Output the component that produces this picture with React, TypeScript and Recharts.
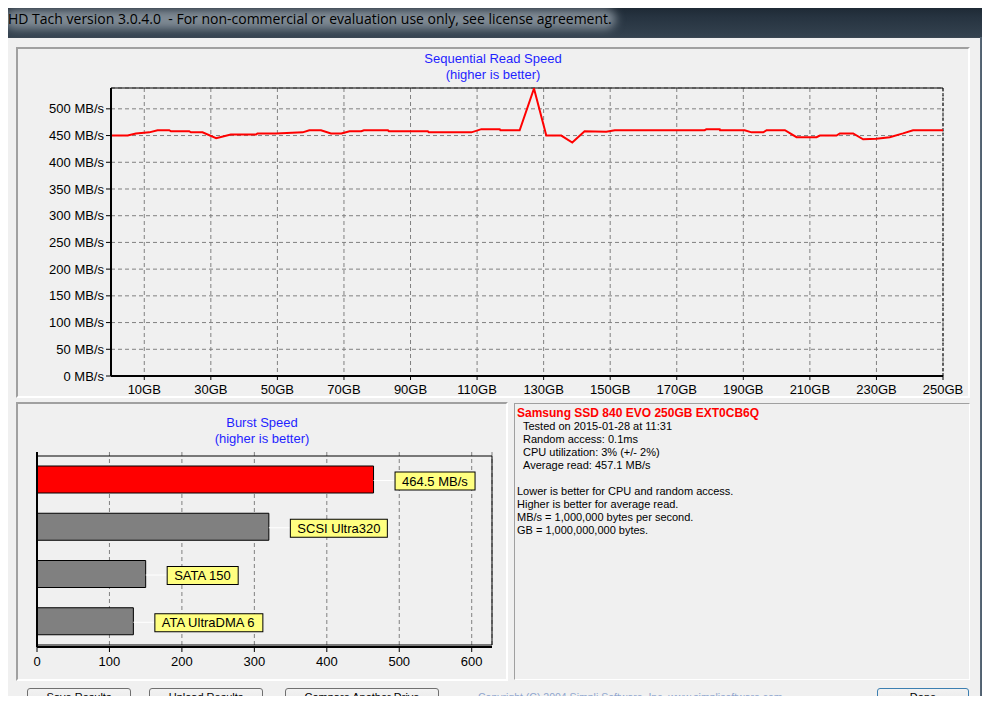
import React from 'react';
import {
  LineChart, Line, XAxis, YAxis, CartesianGrid, ReferenceLine, ReferenceArea,
  BarChart, Bar, Cell, LabelList,
} from 'recharts';

const FONT = '"Liberation Sans", Arial, sans-serif';

// sequential read, position in GB and speed in MB/s
const readGB = [
  0, 5, 7.5, 11.5, 14, 17.5, 18, 23.5, 24, 27.5, 31.6, 36, 43.6, 44, 49.6, 57.6, 59.6,
  63.1, 66.1, 69.2, 71.7, 75.2, 76, 83.2, 83.5, 95.2, 95.5, 108.3, 111.3, 116.8, 117,
  122.8, 127.1, 130.8, 135.3, 138.6, 142.3, 148.8, 151.4, 178.4, 178.9, 182.9, 183,
  190.4, 192.5, 196, 197, 202.5, 206, 212, 213, 218, 219, 223, 226, 230, 234, 238, 241, 250,
];
const readMBs = [
  450, 450, 454, 456, 460, 460, 458, 458, 456, 456, 445, 452, 452, 454, 454, 456, 460,
  460, 454, 454, 458, 458, 460, 460, 458, 458, 456, 456, 462, 462, 460,
  460, 538, 450, 450, 437, 458, 457, 460, 460, 462, 462, 460,
  460, 456, 456, 460, 460, 447, 447, 450, 450, 454, 454, 443, 444, 447, 454, 460, 460,
];
const speedTicks = [0, 50, 100, 150, 200, 250, 300, 350, 400, 450, 500];
const gbTicks = [10, 30, 50, 70, 90, 110, 130, 150, 170, 190, 210, 230, 250];
const gbMinor = Array.from({ length: 51 }, (_, i) => i * 5);

// burst speed
const burstNames = ['Samsung SSD 840 EVO', 'SCSI Ultra320', 'SATA 150', 'ATA UltraDMA 6'];
const burstValues = [464.5, 320, 150, 133];
const burstLabels = ['464.5 MB/s', 'SCSI Ultra320', 'SATA 150', 'ATA UltraDMA 6'];
const burstTicks = [0, 100, 200, 300, 400, 500, 600];
const burstMinor = Array.from({ length: 26 }, (_, i) => i * 25);

const driveName = 'Samsung SSD 840 EVO 250GB EXT0CB6Q';
const driveStats = [
  'Tested on 2015-01-28 at 11:31',
  'Random access: 0.1ms',
  'CPU utilization: 3% (+/- 2%)',
  'Average read: 457.1 MB/s',
];
const notes = [
  'Lower is better for CPU and random access.',
  'Higher is better for average read.',
  'MB/s = 1,000,000 bytes per second.',
  'GB = 1,000,000,000 bytes.',
];
const buttons = [
  { text: 'Save Results', left: 27, width: 104 },
  { text: 'Upload Results', left: 149, width: 114 },
  { text: 'Compare Another Drive', left: 285, width: 154 },
  { text: 'Done', left: 877, width: 92 },
];

const seqData = readGB.map((gb, i) => ({ gb, mbs: readMBs[i] }));
const burstData = burstNames.map((name, i) => ({ name, value: burstValues[i], label: burstLabels[i] }));

let ctx: CanvasRenderingContext2D | null = null;
function textWidth(t: string) {
  if (!ctx) ctx = document.createElement('canvas').getContext('2d');
  if (!ctx) return t.length * 7;
  ctx.font = '13px "Liberation Sans"';
  return ctx.measureText(t).width;
}

function BurstTag(props: any) {
  const { x, y, width, height, value } = props;
  const tw = textWidth(String(value));
  const end = x + width;
  const bx = end + 21;
  const cy = y + height / 2 + 1;
  return (
    <g>
      <line x1={end} x2={bx} y1={cy} y2={cy} stroke="#ffffff" />
      <rect x={bx + 0.5} y={cy - 8.5} width={Math.round(tw + 14)} height={18} fill="#ffff80" stroke="#000" />
      <text x={bx + 7.5} y={cy + 5} fontSize={13} fontFamily={FONT} fill="#000">{value}</text>
    </g>
  );
}

const tickStyle = { fontSize: 13, fill: '#000', fontFamily: FONT };
const panel = (left: number, top: number, width: number, height: number): React.CSSProperties => ({
  position: 'absolute', left, top, width, height, boxSizing: 'border-box',
  borderStyle: 'solid', borderWidth: 2, borderColor: '#a0a0a0 #ffffff #ffffff #a0a0a0',
});
const title: React.CSSProperties = {
  position: 'absolute', textAlign: 'center', color: '#1f1fff', fontSize: 13, lineHeight: '16px', fontFamily: FONT,
};

export default function App() {
  return (
    <div style={{ position: 'relative', width: 990, height: 704, margin: -8, overflow: 'hidden', fontFamily: FONT,
      background: 'linear-gradient(90deg, #2c3a47 0%, #3d4c59 50%, #2a3946 100%)' }}>
      {/* title bar */}
      <div style={{ position: 'absolute', left: 0, top: 0, width: 990, height: 37,
        background: 'linear-gradient(180deg, #17212b 0%, #263340 45%, #34424f 100%)' }} />
      <div style={{ position: 'absolute', left: 4, top: 9, width: 612, height: 20, borderRadius: 10,
        background: 'rgba(165,175,184,0.7)', filter: 'blur(5px)' }} />
      <div style={{ position: 'absolute', left: 8, top: 9, fontFamily: '"Open Sans", sans-serif', fontSize: 14,
        color: '#000', whiteSpace: 'pre', lineHeight: '19px' }}>
        HD Tach version 3.0.4.0  - For non-commercial or evaluation use only, see license agreement.
      </div>
      <div style={{ position: 'absolute', left: 980, top: 37, width: 10, height: 667,
        background: 'linear-gradient(90deg, #5a6a7a, #1d2b38)' }} />

      {/* client area */}
      <div style={{ position: 'absolute', left: 6, top: 37, width: 974, height: 667, background: '#f0f0f0',
        borderTop: '1px solid #3a4652' }} />
      <div style={panel(16, 47, 954, 351)} />
      <div style={panel(16, 402, 492, 279)} />
      <div style={{ ...panel(514, 403, 456, 277), borderWidth: 1 }} />

      <div style={{ ...title, left: 16, width: 954, top: 51 }}>Sequential Read Speed<br />(higher is better)</div>
      <div style={{ ...title, left: 16, width: 492, top: 415 }}>Burst Speed<br />(higher is better)</div>

      <div style={{ position: 'absolute', left: 0, top: 0 }}>
        <LineChart width={990} height={400} data={seqData} margin={{ top: 88, right: 47, left: 11, bottom: 4 }}>
          <CartesianGrid stroke="#808080" strokeDasharray="4 3" />
          <XAxis xAxisId="minor" type="number" dataKey="gb" domain={[0, 250]} ticks={gbMinor} height={0}
            axisLine={false} tickSize={3} tickLine={{ stroke: '#000' }} tickFormatter={() => ''} interval={0} />
          <XAxis type="number" dataKey="gb" domain={[0, 250]} ticks={gbTicks} height={20} interval={0}
            tick={tickStyle} tickSize={4} tickMargin={5} axisLine={{ stroke: '#000', strokeWidth: 2 }}
            tickLine={{ stroke: '#000' }} tickFormatter={(v: number) => `${v}GB`} />
          <YAxis type="number" domain={[0, 539]} ticks={speedTicks} width={100} interval={0} allowDataOverflow
            tick={tickStyle} tickSize={5} tickMargin={2} axisLine={{ stroke: '#000', strokeWidth: 2 }}
            tickLine={{ stroke: '#000' }} tickFormatter={(v: number) => `${v} MB/s`} />
          <ReferenceLine y={539} stroke="#000" />
          <ReferenceLine x={250} stroke="#000" strokeDasharray="3 2" />
          <Line type="linear" dataKey="mbs" stroke="#ff0000" strokeWidth={2} dot={false} isAnimationActive={false} />
        </LineChart>
      </div>

      <div style={{ position: 'absolute', left: 0, top: 400 }}>
        <BarChart width={510} height={280} layout="vertical" data={burstData} barSize={27}
          margin={{ top: 52, right: 18, left: 37, bottom: 13 }}>
          <CartesianGrid stroke="#808080" strokeDasharray="4 3" horizontal={false} />
          <XAxis xAxisId="minor" type="number" domain={[0, 628]} ticks={burstMinor} height={0} interval={0}
            axisLine={false} tickSize={3} tickLine={{ stroke: '#000' }} tickFormatter={() => ''} />
          <XAxis type="number" dataKey="value" domain={[0, 628]} ticks={burstTicks} height={20} interval={0}
            tick={tickStyle} tickSize={5} tickMargin={5} axisLine={{ stroke: '#000', strokeWidth: 2 }}
            tickLine={{ stroke: '#000' }} />
          <YAxis type="category" dataKey="name" hide width={0} padding={{ top: 4, bottom: 2 }} />
          <ReferenceArea x1={0} x2={628} fill="none" stroke="#000" fillOpacity={0} ifOverflow="visible" />
          <Bar dataKey="value" stroke="#000" isAnimationActive={false}>
            {burstData.map((d, i) => (
              <Cell key={d.name} fill={i === 0 ? '#ff0000' : '#808080'} />
            ))}
            <LabelList dataKey="label" content={BurstTag} />
          </Bar>
          <ReferenceLine x={0} stroke="#000" strokeWidth={2} />
        </BarChart>
      </div>

      {/* drive info */}
      <div style={{ position: 'absolute', left: 517, top: 407, fontSize: 11, lineHeight: '13px', color: '#000', whiteSpace: 'pre' }}>
        <div style={{ color: '#ff0000', fontWeight: 'bold', fontSize: 12 }}>{driveName}</div>
        {driveStats.map((s) => <div key={s} style={{ paddingLeft: 6 }}>{s}</div>)}
        <div>&nbsp;</div>
        {notes.map((s) => <div key={s}>{s}</div>)}
      </div>

      {/* buttons at the bottom edge of the screenshot */}
      {buttons.map((b) => (
        <div key={b.text} style={{ position: 'absolute', left: b.left, top: 688, width: b.width, height: 26,
          boxSizing: 'border-box', border: b.text === 'Done' ? '1px solid #3c7fb1' : '1px solid #707070', borderRadius: 3,
          background: 'linear-gradient(180deg, #f2f2f2 0%, #ebebeb 50%, #dddddd 51%, #cfcfcf 100%)',
          textAlign: 'center', fontSize: 11, lineHeight: '13px', paddingTop: 2 }}>{b.text}</div>
      ))}
      <div style={{ position: 'absolute', left: 478, top: 691, fontSize: 10.5, lineHeight: '12px', color: '#8fa6cf', whiteSpace: 'pre' }}>
        Copyright (C) 2004 Simpli Software, Inc. www.simplisoftware.com
      </div>
    </div>
  );
}
